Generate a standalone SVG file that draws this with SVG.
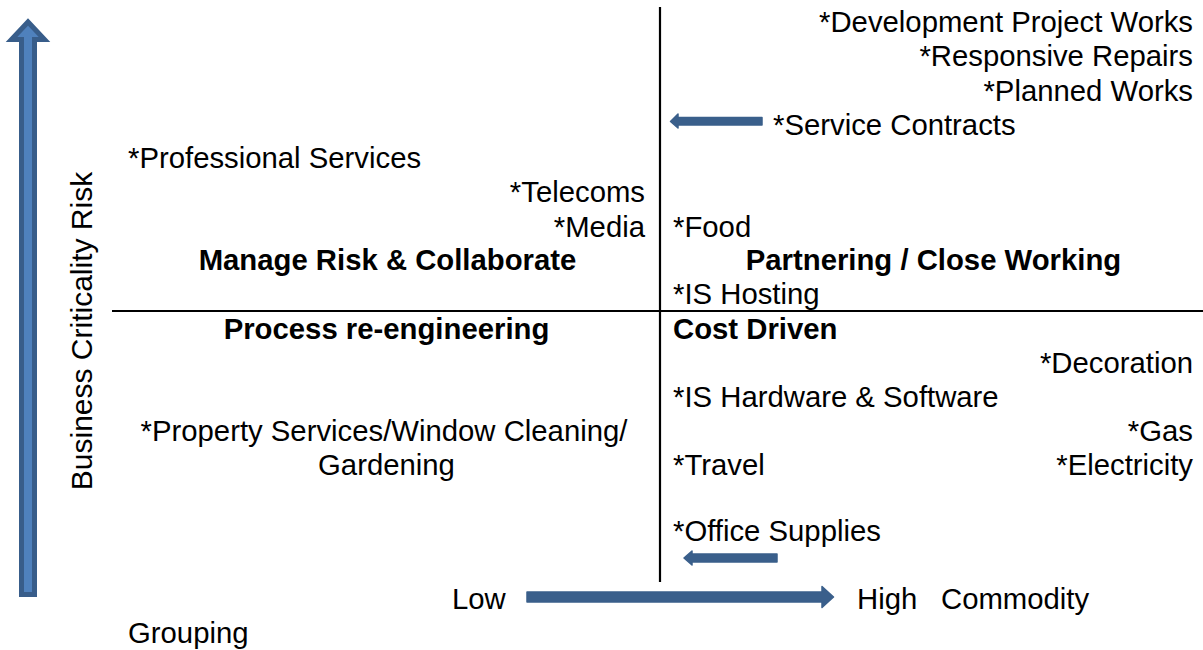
<svg xmlns="http://www.w3.org/2000/svg" width="1203" height="650" viewBox="0 0 1203 650">
<style>
text { font-family: "Liberation Sans", Arial, sans-serif; font-size: 29.3px; fill: #000; }
.b { font-weight: bold; }
.e { text-anchor: end; }
.m { text-anchor: middle; }
.axis { stroke: #000; stroke-width: 2.2; fill: none; }
.arr { fill: #3a5f8b; stroke: #3a5f8b; stroke-width: 1.5; stroke-linejoin: round; }
</style>
<rect width="1203" height="650" fill="#fff"/>
<g id="axes">
  <line class="axis" x1="660" y1="7" x2="660" y2="582"/>
  <line class="axis" x1="112" y1="311" x2="1203" y2="311"/>
</g>
<g id="connectors">
  <path id="risk-arrow" d="M21.5,594.5 L34.5,594.5 L34.5,39.5 L44.5,39.5 L28,22 L11.5,39.5 L21.5,39.5 Z" fill="#4f81bd" stroke="#385d8a" stroke-width="5" stroke-linejoin="miter"/>
  <path class="arr" d="M762,117.5 L678,117.5 L678,114 L670.5,121.5 L678,128 L678,125 L762,125 Z"/>
  <path class="arr" d="M777,554 L692,554 L692,551 L684,558 L692,565 L692,562 L777,562 Z"/>
  <path class="arr" d="M527,592 L822,592 L822,586.5 L833.5,597 L822,607.5 L822,602 L527,602 Z"/>
</g>
<g id="y-label"><text class="m" transform="translate(92,331) rotate(-90)" style="font-size:30px">Business Criticality Risk</text></g>
<g id="n-dev"><text class="e" x="1193" y="32">*Development Project Works</text></g>
<g id="n-resp"><text class="e" x="1193" y="66">*Responsive Repairs</text></g>
<g id="n-planned"><text class="e" x="1193" y="101">*Planned Works</text></g>
<g id="n-service"><text x="773" y="135">*Service Contracts</text></g>
<g id="n-prof"><text x="128" y="168">*Professional Services</text></g>
<g id="n-telecoms"><text class="e" x="645" y="202">*Telecoms</text></g>
<g id="n-media"><text class="e" x="645" y="237">*Media</text></g>
<g id="n-food"><text x="673" y="237">*Food</text></g>
<g id="q-manage"><text class="b m" x="387.5" y="270">Manage Risk &amp; Collaborate</text></g>
<g id="q-partner"><text class="b m" x="933.5" y="270">Partnering / Close Working</text></g>
<g id="n-ishost"><text x="673" y="304">*IS Hosting</text></g>
<g id="q-process"><text class="b m" x="386.5" y="339">Process re-engineering</text></g>
<g id="q-cost"><text class="b" x="673" y="339">Cost Driven</text></g>
<g id="n-decor"><text class="e" x="1193" y="373">*Decoration</text></g>
<g id="n-ishw"><text x="673" y="407">*IS Hardware &amp; Software</text></g>
<g id="n-property"><text class="m" x="384" y="441">*Property Services/Window Cleaning/</text><text class="m" x="386.5" y="475">Gardening</text></g>
<g id="n-gas"><text class="e" x="1193" y="441">*Gas</text></g>
<g id="n-travel"><text x="673" y="475">*Travel</text></g>
<g id="n-elec"><text class="e" x="1193" y="475">*Electricity</text></g>
<g id="n-office"><text x="673" y="541">*Office Supplies</text></g>
<g id="x-label">
  <text x="452" y="609">Low</text>
  <text x="857" y="609">High</text>
  <text x="941" y="609">Commodity</text>
  <text x="128" y="643">Grouping</text>
</g>
</svg>
